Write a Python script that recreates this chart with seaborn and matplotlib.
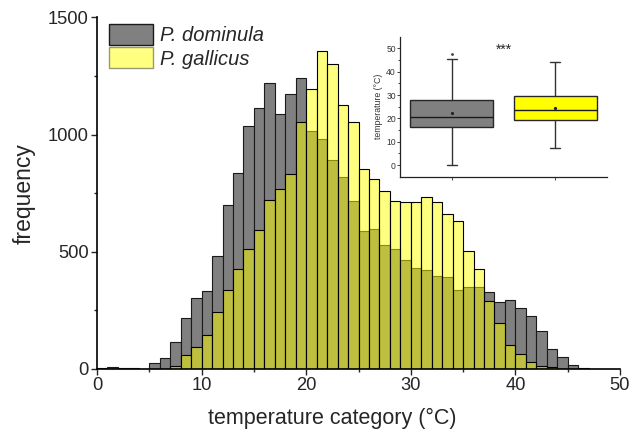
import numpy as np
import pandas as pd
import matplotlib
matplotlib.use("Agg")
import matplotlib.pyplot as plt
from matplotlib.patches import Patch
import seaborn as sns

# ---- data ----
bin_left = list(range(0, 48))
dominula = [5, 8, 6, 5, 1, 25, 46, 116, 218, 303, 331, 482, 698, 836, 1036, 1111,
            1221, 1089, 1173, 1243, 1017, 981, 892, 819, 718, 590, 595, 529, 510, 464,
            432, 422, 398, 391, 338, 350, 350, 329, 286, 296, 262, 227, 160, 86, 49, 19, 4, 0]
gallicus = [0, 0, 0, 0, 0, 0, 0, 14, 59, 95, 146, 245, 336, 427, 510, 594,
            721, 769, 830, 1052, 1196, 1358, 1301, 1126, 1053, 855, 810, 757, 718, 711,
            714, 732, 711, 660, 631, 502, 427, 289, 195, 101, 62, 29, 14, 8, 2, 0, 0, 0]
species = ["P. dominula", "P. gallicus"]

# box plot summary (temperature °C)
box_q1 = [16.2, 19.3]
box_med = [20.6, 23.5]
box_q3 = [27.9, 29.5]
box_mean = [22.3, 24.3]
box_wlo = [0.1, 7.4]
box_whi = [45.6, 44.1]
box_max = [47.6, None]

gray = "#808080"
yellow = "#FFFF00"

sns.set_style("ticks")
plt.rcParams["font.family"] = ["Liberation Sans", "DejaVu Sans"]

fig = plt.figure(figsize=(6.35, 4.29), dpi=100)
ax = fig.add_axes([0.1528, 0.1399, 0.8236, 0.8198])

centers = [b + 0.5 for b in bin_left]
edges = list(range(0, 49))
df = pd.DataFrame({"temp": centers * 2,
                   "count": dominula + gallicus,
                   "species": [species[0]] * len(centers) + [species[1]] * len(centers)})

sns.histplot(data=df[df.species == species[0]], x="temp", weights="count", bins=edges,
             color=gray, alpha=1.0, edgecolor="#1a1a1a", linewidth=0.8, ax=ax)
sns.histplot(data=df[df.species == species[1]], x="temp", weights="count", bins=edges,
             color=yellow, alpha=0.5, edgecolor="#000000", linewidth=0.8, ax=ax)

ax.set_xlim(0, 50)
ax.set_ylim(0, 1500)
ax.set_xticks([0, 10, 20, 30, 40, 50])
ax.set_xticks(np.arange(5, 50, 10), minor=True)
ax.set_yticks([0, 500, 1000, 1500])
ax.set_yticks([250, 750, 1250], minor=True)
ax.tick_params(axis="both", which="major", direction="out", length=4.5, width=1, labelsize=13.2, pad=1.5)
ax.tick_params(axis="both", which="minor", direction="out", length=2.5, width=1)
for s in ["top", "right"]:
    ax.spines[s].set_visible(False)
for s in ["left", "bottom"]:
    ax.spines[s].set_linewidth(1.2)
    ax.spines[s].set_color("#000000")
ax.set_xlabel("temperature category (°C)", fontsize=15.5)
ax.set_ylabel("frequency", fontsize=16.5)
ax.xaxis.set_label_coords(0.45, -0.11)
ax.yaxis.set_label_coords(-0.118, 0.5)

handles = [Patch(facecolor=gray, edgecolor="#1a1a1a", linewidth=1.0),
           Patch(facecolor="#FFFF80", edgecolor="#9a9a70", linewidth=1.0)]
leg = ax.legend(handles, species, loc="upper left", bbox_to_anchor=(-0.005, 1.02),
                frameon=False, fontsize=14.5, handlelength=2.2, handleheight=1.2,
                labelspacing=0.1, handletextpad=0.35, borderaxespad=0.3)
for t in leg.get_texts():
    t.set_fontstyle("italic")

# ---- inset box plot ----
ins = fig.add_axes([0.630, 0.588, 0.326, 0.3265])
stats = []
for i in range(2):
    d = dict(q1=box_q1[i], med=box_med[i], q3=box_q3[i], mean=box_mean[i],
             whislo=box_wlo[i], whishi=box_whi[i],
             fliers=[box_max[i]] if box_max[i] is not None else [])
    stats.append(d)
bp = ins.bxp(stats, positions=[0, 1], widths=0.8, patch_artist=True, showmeans=True,
             capwidths=0.1,
             boxprops=dict(edgecolor="#262626", linewidth=1.0),
             medianprops=dict(color="#1a1a1a", linewidth=1.0),
             whiskerprops=dict(color="#333333", linewidth=1.0),
             capprops=dict(color="#333333", linewidth=1.0),
             meanprops=dict(marker="o", markersize=1.3, markerfacecolor="#222222",
                            markeredgecolor="#222222"),
             flierprops=dict(marker="o", markersize=1.0, markerfacecolor="#444444",
                             markeredgecolor="#444444"))
for patch, c in zip(bp["boxes"], [gray, yellow]):
    patch.set_facecolor(c)
ins.set_xlim(-0.5, 1.5)
ins.set_ylim(-5, 55)
ins.set_xticks([0, 1])
ins.set_xticklabels(["", ""])
ins.set_yticks([0, 10, 20, 30, 40, 50])
ins.set_yticks(np.arange(5, 55, 10), minor=True)
ins.tick_params(axis="both", which="major", direction="out", length=2, width=0.6,
                labelsize=6.2, pad=1, labelcolor="#333333")
ins.tick_params(axis="y", which="minor", direction="out", length=1.2, width=0.6)
for s in ["top", "right"]:
    ins.spines[s].set_visible(False)
for s in ["left", "bottom"]:
    ins.spines[s].set_linewidth(0.9)
    ins.spines[s].set_color("#222222")
ins.set_ylabel("temperature (°C)", fontsize=6.3, labelpad=2, color="#333333")
ins.patch.set_alpha(0)
ins.text(0.5, 49.6, "***", ha="center", va="center", fontsize=10)

fig.savefig("out.png", dpi=100)
